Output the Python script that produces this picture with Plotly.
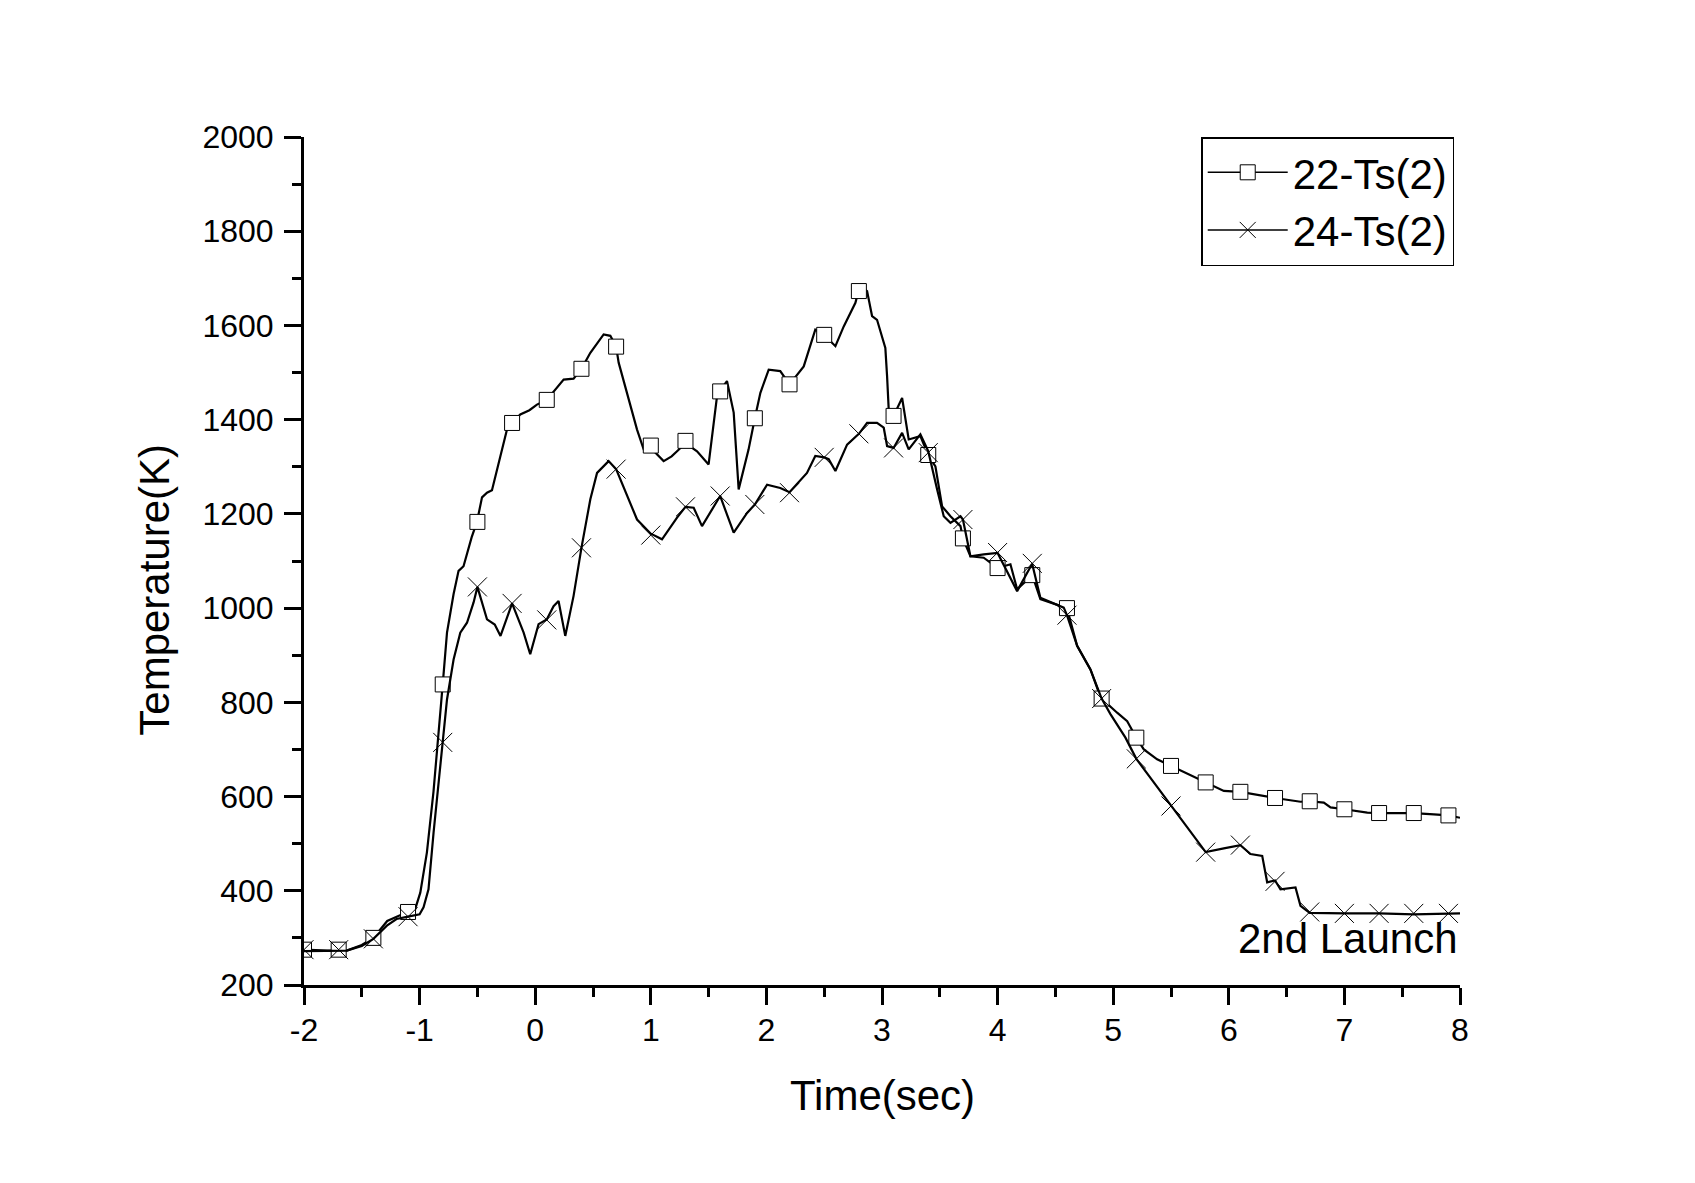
import plotly.graph_objects as go

# Time (sec) and temperature (K)
t_22 = [-2.0, -1.8, -1.63, -1.5, -1.4, -1.28, -1.15, -1.05, -0.994, -0.937, -0.88, -0.821, -0.8,
        -0.763, -0.735, -0.706, -0.663, -0.62, -0.55, -0.504, -0.46, -0.417, -0.374, -0.317,
        -0.244, -0.2, -0.129, -0.05, 0.015, 0.1, 0.159, 0.246, 0.332, 0.4, 0.477, 0.592, 0.65,
        0.7, 0.722, 0.794, 0.881, 0.938, 1.0, 1.111, 1.18, 1.227, 1.3, 1.4, 1.5, 1.573, 1.6,
        1.659, 1.717, 1.76, 1.846, 1.9, 1.948, 2.02, 2.12, 2.2, 2.323, 2.423, 2.5, 2.597, 2.669,
        2.77, 2.808, 2.871, 2.914, 2.957, 3.029, 3.044, 3.058, 3.1, 3.174, 3.231, 3.332, 3.4,
        3.462, 3.52, 3.592, 3.679, 3.7, 3.765, 3.88, 4.0, 4.111, 4.169, 4.256, 4.3, 4.37, 4.544,
        4.6, 4.688, 4.803, 4.875, 4.9, 5.034, 5.121, 5.2, 5.265, 5.38, 5.5, 5.669, 5.8, 5.957,
        6.1, 6.246, 6.4, 6.62, 6.7, 6.822, 6.88, 7.0, 7.198, 7.3, 7.6, 7.774, 7.9, 8.0]
T_22 = [275, 273, 273, 285, 300, 336, 350, 352, 396, 481, 610, 771, 838,
        948, 990, 1030, 1079, 1089, 1150, 1183, 1235, 1245, 1250, 1308,
        1379, 1393, 1411, 1420, 1432, 1442, 1460, 1485, 1487, 1508, 1542, 1581, 1578,
        1555, 1521, 1457, 1379, 1337, 1340, 1312, 1322, 1333, 1350, 1333, 1305, 1450, 1462,
        1482, 1415, 1252, 1337, 1403, 1457, 1506, 1503, 1475, 1513, 1591, 1580, 1556, 1598,
        1648, 1684, 1673, 1620, 1612, 1552, 1492, 1422, 1408, 1446, 1358, 1365, 1325,
        1301, 1216, 1195, 1174, 1148, 1110, 1107, 1085, 1093, 1040, 1061, 1070, 1019, 1004,
        1000, 920, 870, 821, 808, 778, 760, 725, 700, 679, 665, 644, 630, 612,
        610, 603, 597, 589, 590, 587, 577, 573, 566, 565, 565, 562, 560, 555]

t_24 = [-2.0, -1.8, -1.63, -1.5, -1.4, -1.283, -1.2, -1.1, -1.0, -0.966, -0.923, -0.879, -0.8,
        -0.763, -0.706, -0.648, -0.59, -0.533, -0.5, -0.417, -0.35, -0.3, -0.2, -0.1, -0.043,
        0.029, 0.1, 0.159, 0.202, 0.26, 0.332, 0.4, 0.477, 0.535, 0.635, 0.7, 0.881, 1.0, 1.097,
        1.227, 1.3, 1.371, 1.443, 1.6, 1.717, 1.833, 1.9, 2.006, 2.12, 2.2, 2.351, 2.423, 2.5,
        2.539, 2.597, 2.698, 2.8, 2.871, 2.957, 3.015, 3.044, 3.1, 3.174, 3.231, 3.332, 3.4,
        3.477, 3.534, 3.592, 3.679, 3.7, 3.765, 3.88, 4.0, 4.169, 4.299, 4.37, 4.572, 4.6,
        4.688, 4.803, 4.9, 4.976, 5.106, 5.2, 5.351, 5.5, 5.61, 5.68, 5.727, 5.8, 5.957, 6.1, 6.188,
        6.289, 6.332, 6.4, 6.447, 6.577, 6.62, 6.7, 7.0, 7.3, 7.6, 7.9, 8.0]
T_24 = [272, 272, 273, 283, 298, 326, 340, 345, 350, 365, 403, 524, 718,
        806, 891, 948, 969, 1012, 1045, 976, 965, 941, 1010, 948, 902,
        966, 976, 1004, 1015, 941, 1026, 1128, 1231, 1287, 1312, 1295, 1188, 1158, 1146,
        1192, 1215, 1213, 1174, 1238, 1160, 1202, 1220, 1262, 1255, 1246, 1287, 1323, 1320,
        1316, 1291, 1347, 1370, 1393, 1393, 1383, 1344, 1340, 1372, 1337, 1369, 1333,
        1252, 1195, 1181, 1195, 1188, 1110, 1114, 1117, 1036, 1094, 1022, 1001, 985,
        920, 870, 808, 775, 725, 680, 630, 581, 545, 522, 506, 482, 490, 497, 478,
        474, 418, 422, 403, 407, 368, 353, 352, 352, 350, 352, 352]

# symbol positions (every 0.3 s)
t_marks = [-2.0, -1.7, -1.4, -1.1, -0.8, -0.5, -0.2, 0.1, 0.4, 0.7, 1.0, 1.3, 1.6, 1.9, 2.2, 2.5,
           2.8, 3.1, 3.4, 3.7, 4.0, 4.3, 4.6, 4.9, 5.2, 5.5, 5.8, 6.1, 6.4, 6.7, 7.0, 7.3, 7.6, 7.9]
mark_22 = [275, 275, 300, 355, 838, 1183, 1393, 1442, 1508, 1555, 1345, 1355, 1460, 1403, 1475, 1580,
           1673, 1408, 1325, 1148, 1085, 1070, 1000, 808, 725, 665, 630, 610, 597, 590, 573, 565, 565, 560]
mark_24 = [275, 275, 298, 345, 715, 1045, 1010, 975, 1128, 1295, 1155, 1215, 1238, 1220, 1245, 1320,
           1370, 1340, 1330, 1188, 1118, 1095, 985, 808, 680, 580, 482, 497, 420, 355, 352, 352, 352, 352]

x_ticks = [-2, -1, 0, 1, 2, 3, 4, 5, 6, 7, 8]
x_ticktext = ["-2", "-1", "0", "1", "2", "3", "4", "5", "6", "7", "8"]

FONT = "Liberation Sans, Arial, sans-serif"
sq = dict(symbol="square", size=15, color="white", line=dict(color="black", width=1))
xm = dict(symbol="x-thin", size=19, color="black", line=dict(color="black", width=1))

fig = go.Figure()

fig.add_trace(go.Scatter(x=t_22, y=T_22, mode="lines", line=dict(color="black", width=2.2),
                         showlegend=False))
fig.add_trace(go.Scatter(x=t_marks, y=mark_22, mode="markers", marker=sq, showlegend=False))
fig.add_trace(go.Scatter(x=t_24, y=T_24, mode="lines", line=dict(color="black", width=2.2),
                         showlegend=False))
fig.add_trace(go.Scatter(x=t_marks, y=mark_24, mode="markers", marker=xm, showlegend=False))

# legend entries
fig.add_trace(go.Scatter(x=[None], y=[None], mode="lines+markers", name="22-Ts(2)",
                         line=dict(color="black", width=1.5), marker=sq))
fig.add_trace(go.Scatter(x=[None], y=[None], mode="lines+markers", name="24-Ts(2)",
                         line=dict(color="black", width=1.5), marker=xm))

axis_common = dict(
    showline=True, linecolor="black", linewidth=3, mirror=False,
    showgrid=False, zeroline=False,
    ticks="outside", ticklen=17, tickwidth=3, tickcolor="black",
    tickfont=dict(family=FONT, size=32, color="black"),
)

fig.update_xaxes(range=[-2, 8], tickvals=x_ticks, ticktext=x_ticktext, ticklabelstandoff=-2,
                 minor=dict(ticks="outside", ticklen=9, tickwidth=3, tickcolor="black",
                            tick0=-2, dtick=0.5),
                 **axis_common)
fig.update_yaxes(range=[200, 2000], tick0=200, dtick=200, ticklabelstandoff=4,
                 minor=dict(ticks="outside", ticklen=9, tickwidth=3, tickcolor="black", dtick=100),
                 **axis_common)

fig.add_annotation(x=8, y=298, xref="x", yref="y", text="2nd Launch", showarrow=False,
                   xanchor="right", yanchor="middle", font=dict(family=FONT, size=42, color="black"))
fig.add_annotation(x=0.5, y=-0.13, xref="paper", yref="paper", text="Time(sec)", showarrow=False,
                   xanchor="center", yanchor="middle", font=dict(family=FONT, size=42, color="black"))
fig.add_annotation(x=-0.129, y=0.466, xref="paper", yref="paper", text="Temperature(K)",
                   showarrow=False, textangle=-90, xanchor="center", yanchor="middle",
                   font=dict(family=FONT, size=42, color="black"))

fig.update_layout(
    width=1679, height=1167,
    margin=dict(l=296, r=227, t=129, b=190),
    paper_bgcolor="white", plot_bgcolor="white",
    font=dict(family=FONT, color="black"),
    legend=dict(x=0.995, y=1.0, xanchor="right", yanchor="top",
                bordercolor="black", borderwidth=1.5, bgcolor="white",
                font=dict(family=FONT, size=42, color="black"),
                itemwidth=80, tracegroupgap=0),
)

fig.write_html("out.html")
